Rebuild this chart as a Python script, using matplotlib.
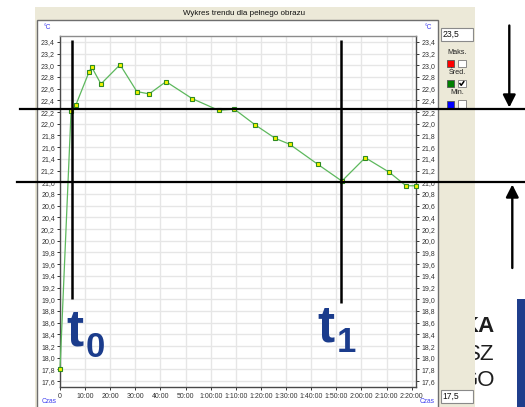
import matplotlib
matplotlib.use("Agg")
import matplotlib.pyplot as plt
import matplotlib.transforms as mtransforms
from matplotlib.patches import Rectangle
from matplotlib.lines import Line2D
from matplotlib.ticker import FuncFormatter

W, H, DPI = 525, 407, 100
FONT = ["Liberation Sans", "DejaVu Sans"]
plt.rcParams["font.family"] = FONT

# Average temperature trend: elapsed time [min] and value [°C]
time_min = [0, 4.4, 6.3, 11.6, 12.6, 16.3, 23.9, 30.6, 35.5, 42.2, 52.6,
            63.1, 69.4, 77.7, 85.7, 91.4, 102.5, 112.2, 121.5, 131.1,
            137.7, 141.7]
temp_c = [17.8, 22.21, 22.32, 22.89, 22.97, 22.68, 23.01, 22.55, 22.51,
          22.72, 22.43, 22.23, 22.25, 21.98, 21.75, 21.65, 21.31, 21.02,
          21.42, 21.17, 20.94, 20.94]

# Scale limits shown in the side boxes
y_low, y_high = 17.5, 23.5
y_ticks = [round(17.6 + 0.2 * i, 1) for i in range(30)]
x_ticks = list(range(0, 150, 10))

# Marked moments and reference levels
t0_min, t1_min = 4.9, 111.8
level_upper, level_lower = 22.25, 21.0

PANEL = "#ECE9D8"
BLUE_TXT = "#3F3FF0"
MARK_BLUE = "#1B3C8C"


def fmt_time(v, _pos=None):
    m = int(round(v))
    if m == 0:
        return "0"
    if m < 60:
        return f"{m}:00"
    return f"{m // 60}:{m % 60:02d}:00"


def fmt_temp(v, _pos=None):
    return f"{v:.1f}".replace(".", ",")


fig = plt.figure(figsize=(W / DPI, H / DPI), dpi=DPI)
fig.patch.set_facecolor("white")

# ---- background layer: slide fragments and the application window ----
bg = fig.add_axes([0, 0, 1, 1], zorder=0)
bg.set_xlim(0, W)
bg.set_ylim(H, 0)
bg.axis("off")

for txt, yy, wt in [("KA", 327, "bold"), ("SZ", 355, "normal"), ("GO", 381, "normal")]:
    bg.text(495, yy, txt, ha="right", va="center", fontsize=16,
            fontweight=wt, color="#1E1E1E", zorder=1)
bg.add_patch(Rectangle((517, 299), 8, 108, facecolor="#1F3E8C",
                       edgecolor="none", zorder=1))

bg.add_patch(Rectangle((35, 7), 440, 401, facecolor=PANEL,
                       edgecolor="none", zorder=2))
bg.text(244, 13.5, "Wykres trendu dla pełnego obrazu", ha="center",
        va="center", fontsize=5.8, color="#111111", zorder=3)
bg.add_patch(Rectangle((37, 20), 401, 392, facecolor="white",
                       edgecolor="#6E6E6E", lw=1, zorder=3))


def text_box(x, y, w, h, s):
    bg.add_patch(Rectangle((x, y), w, h, facecolor="white",
                           edgecolor="#8A8A8A", lw=0.8, zorder=4))
    bg.text(x + 1.5, y + h / 2 + 0.5, s, ha="left", va="center",
            fontsize=6.2, color="#111111", zorder=5)


text_box(441, 27.5, 32, 13.5, "23,5")
text_box(441, 389.5, 32, 13.5, "17,5")

series_keys = [("Maks.", 52.5, "#FF0000", False),
               ("Śred.", 72.5, "#008000", True),
               ("Min.", 93.0, "#0000FF", False)]
for label, yy, col, checked in series_keys:
    bg.text(457, yy, label, ha="center", va="center", fontsize=5.2,
            color="#222222", zorder=5)
    bg.add_patch(Rectangle((446.5, yy + 7.5), 7, 7, facecolor=col,
                           edgecolor="#555555", lw=0.6, zorder=5))
    bg.add_patch(Rectangle((458, yy + 7), 7.5, 7.5, facecolor="white",
                           edgecolor="#7A7A7A", lw=0.6, zorder=5))
    if checked:
        bg.plot([459.5, 461.2, 464.2], [yy + 10.5, yy + 12.8, yy + 8.6],
                color="black", lw=1.1, zorder=6, solid_capstyle="butt")

for xx, yy, s in [(47.5, 27.5, "°C"), (428, 27.5, "°C"),
                  (49, 401.5, "Czas"), (427.5, 401.5, "Czas")]:
    bg.text(xx, yy, s, ha="center", va="center", fontsize=4.8,
            color=BLUE_TXT, zorder=5)

# ---- trend chart ----
ax = fig.add_axes([60 / W, 1 - 387 / H, 356 / W, 351 / H], zorder=1)
ax.set_facecolor("white")
ax.set_xlim(0, time_min[-1])
ax.set_ylim(y_low, y_high)
ax.set_xticks(x_ticks)
ax.set_yticks(y_ticks)
ax.xaxis.set_major_formatter(FuncFormatter(fmt_time))
ax.yaxis.set_major_formatter(FuncFormatter(fmt_temp))
ax.tick_params(axis="y", left=True, right=True, labelleft=True,
               labelright=True, direction="out", length=2.5, width=0.7,
               pad=1.2, labelsize=5, colors="#333333")
ax.tick_params(axis="x", direction="out", length=2.5, width=0.7, pad=1.5,
               labelsize=5, colors="#333333")
ax.grid(True, color="#E6E6E6", lw=1)
ax.set_axisbelow(True)
for side in ("left", "right", "bottom"):
    ax.spines[side].set_color("#4A4A4A")
    ax.spines[side].set_linewidth(1)
ax.spines["top"].set_color("#8C8C8C")
ax.spines["top"].set_linewidth(1)

ax.plot(time_min, temp_c, color="#5DB85D", lw=0.9, marker="s", ms=3.3,
        mfc="#F4F400", mec="#2E8B22", mew=0.8, zorder=3, clip_on=False)

# vertical markers at t0 and t1
for tm, y_bot in [(t0_min, 19.0), (t1_min, 18.94)]:
    ax.plot([tm, tm], [23.43, y_bot], color="black", lw=1.8, zorder=8,
            clip_on=False, solid_capstyle="butt")

# horizontal reference levels, running across the whole picture
blend = mtransforms.blended_transform_factory(fig.transFigure, ax.transData)
for lvl, x_start in [(level_upper, 20), (level_lower, 17)]:
    ax.add_line(Line2D([x_start / W, 1.0], [lvl, lvl], transform=blend,
                       color="black", lw=1.6, zorder=9, clip_on=False))

# ---- foreground: labels t0 / t1 and arrows ----
fg = fig.add_axes([0, 0, 1, 1], zorder=3)
fg.set_xlim(0, W)
fg.set_ylim(H, 0)
fg.axis("off")

for x_t, base_t, x_sub, base_sub, sub in [(66.5, 345, 86, 357, "0"),
                                          (317.5, 342, 337, 352, "1")]:
    fg.text(x_t, base_t, "t", ha="left", va="baseline", fontsize=37,
            fontweight="bold", color=MARK_BLUE)
    fg.text(x_sub, base_sub, sub, ha="left", va="baseline", fontsize=25,
            fontweight="bold", color=MARK_BLUE)

arrow_style = dict(arrowstyle="-|>,head_length=0.75,head_width=0.38",
                   lw=1.7, color="black", shrinkA=0, shrinkB=0,
                   mutation_scale=10)
fg.annotate("", xy=(509.3, 107.5), xytext=(509.3, 25.5),
            arrowprops=arrow_style)
fg.annotate("", xy=(512.3, 184.5), xytext=(512.3, 268),
            arrowprops=arrow_style)

fig.savefig("out.png", dpi=DPI)
